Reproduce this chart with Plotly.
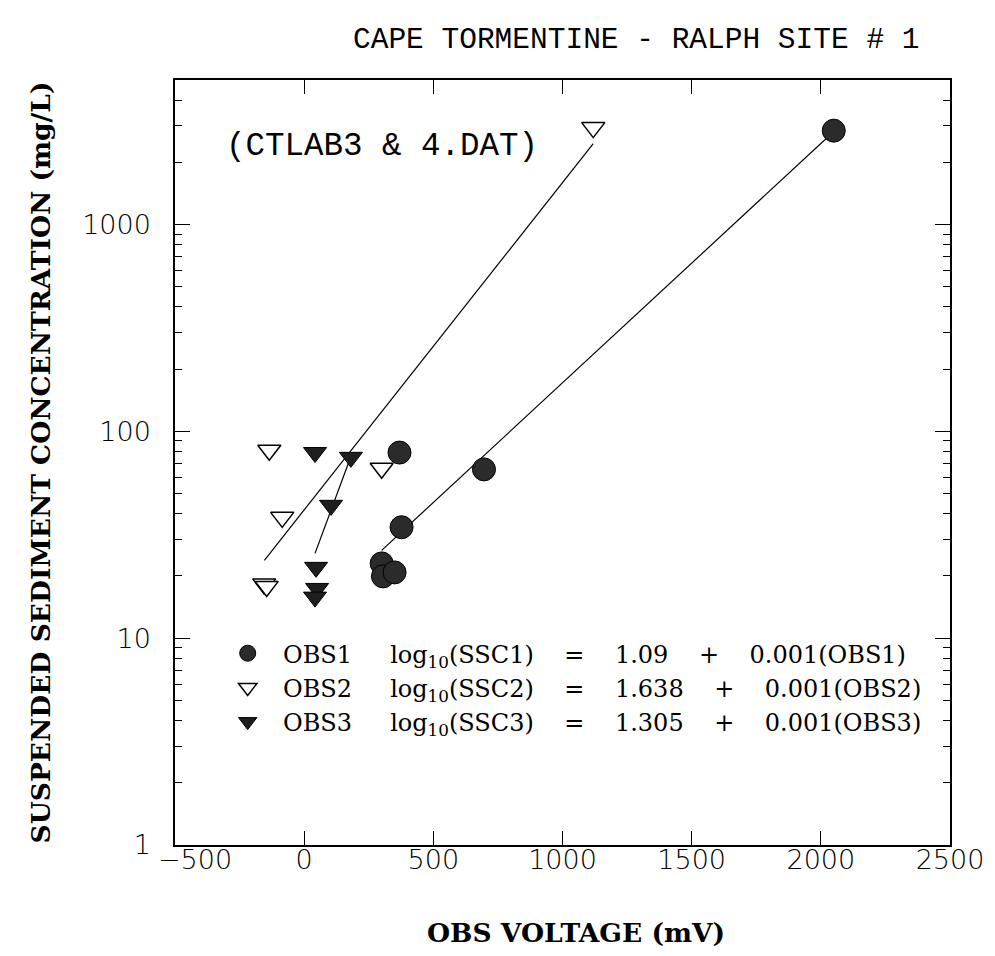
import plotly.graph_objects as go

# ---- data ----
obs1_x = [2050, 369, 696, 377, 300, 305, 350]
obs1_y = [2845, 79, 65.5, 34.4, 23.0, 19.9, 20.8]

obs2_x = [1119, -135, 300, -85, -155, -145]
obs2_y = [2943, 81, 66.3, 38.4, 18.3, 17.8]

obs3_x = [42, 181, 104, 46, 50, 42]
obs3_y = [79, 74.9, 43.9, 22.0, 17.4, 15.8]

fit1_x = [300, 2020]
fit1_y = [26.6, 2600]
fit2_x = [-154, 1119]
fit2_y = [23.8, 2461]
fit3_x = [42, 178]
fit3_y = [25.7, 74]

S = "\u00a0"
def legend_label(k, a):
    return (S * 2 + "OBS%d" % k + S * 5 + "log<sub>10</sub>(SSC%d)" % k + S * 4 + "=" + S * 4
            + a + S * 4 + "+" + S * 4 + "0.001(OBS%d)" % k)

intercepts = ["1.09", "1.638", "1.305"]
names = [legend_label(i + 1, a) for i, a in enumerate(intercepts)]

x_ticks = [-500, 0, 500, 1000, 1500, 2000, 2500]
x_ticktext = ["", "0", "500", "1000", "1500", "2000", "2500"]
first_x_label = "\u2212500"
y_ticks = [1, 10, 100, 1000]

fig = go.Figure()
line_style = dict(color="black", width=1.2)
for fx, fy in [(fit1_x, fit1_y), (fit2_x, fit2_y), (fit3_x, fit3_y)]:
    fig.add_trace(go.Scatter(x=fx, y=fy, mode="lines", line=line_style,
                             showlegend=False, hoverinfo="skip"))

fig.add_trace(go.Scatter(x=obs1_x, y=obs1_y, mode="markers", name=names[0],
                         marker=dict(symbol="circle", size=23, color="#2b2b2b",
                                     line=dict(color="black", width=1))))
fig.add_trace(go.Scatter(x=obs2_x, y=obs2_y, mode="markers", name=names[1],
                         marker=dict(symbol="triangle-down", size=20, color="white",
                                     line=dict(color="black", width=1.5))))
fig.add_trace(go.Scatter(x=obs3_x, y=obs3_y, mode="markers", name=names[2],
                         marker=dict(symbol="triangle-down", size=20, color="#1e1e1e",
                                     line=dict(color="black", width=1))))

tick_font = dict(family="DejaVu Sans", size=27, color="black", weight=200)
title_font = dict(family="DejaVu Serif", size=26.5, color="black", weight="bold")

fig.update_layout(
    width=995, height=956,
    margin=dict(l=175, r=45, t=80, b=111),
    paper_bgcolor="white", plot_bgcolor="white",
    showlegend=True,
    legend=dict(x=0.068, y=0.2796, xanchor="left", yanchor="top",
                bgcolor="rgba(0,0,0,0)", borderwidth=0,
                font=dict(family="DejaVu Serif", size=24, color="black")),
    annotations=[
        dict(text="CAPE TORMENTINE - RALPH SITE # 1", xref="paper", yref="paper",
             x=(636 - 175) / 775, y=1, yshift=40, xanchor="center",
             yanchor="middle", showarrow=False,
             font=dict(family="Liberation Mono", size=29.5, color="black")),
        dict(text="(CTLAB3 & 4.DAT)", xref="paper", yref="paper",
             x=(224 - 175) / 775, y=1 - (146 - 80) / 765, xanchor="left",
             yanchor="middle", showarrow=False,
             font=dict(family="Liberation Mono", size=32.5, color="black")),
        dict(text=first_x_label, xref="x", yref="paper", x=x_ticks[0], y=0,
             xanchor="left", yanchor="middle", xshift=-19, yshift=-14,
             showarrow=False, font=tick_font),
        dict(text="OBS VOLTAGE (mV)", xref="paper", yref="paper",
             x=(576 - 175) / 775, y=0, yshift=-87, xanchor="center", yanchor="middle",
             showarrow=False, font=title_font),
    ],
    xaxis=dict(
        range=[-500, 2500], tickvals=x_ticks, ticktext=x_ticktext,
        ticks="inside", ticklen=14, tickwidth=1.2, tickcolor="black",
        showline=True, linecolor="black", linewidth=1.5, mirror="ticks",
        showgrid=False, zeroline=False, tickfont=tick_font, ticklabelstandoff=-10,
    ),
    yaxis=dict(
        type="log", range=[0, 3.699], tickvals=y_ticks, ticktext=[str(v) for v in y_ticks],
        ticks="inside", ticklen=15, tickwidth=1.2, tickcolor="black",
        minor=dict(ticks="inside", ticklen=7, dtick="D1", tickcolor="black", tickwidth=1, showgrid=False),
        showline=True, linecolor="black", linewidth=1.5, mirror="ticks",
        showgrid=False, zeroline=False, tickfont=tick_font, ticklabelstandoff=17,
        title=dict(text="SUSPENDED SEDIMENT CONCENTRATION (mg/L)", font=title_font, standoff=24),
    ),
)

fig.write_html("out.html")
